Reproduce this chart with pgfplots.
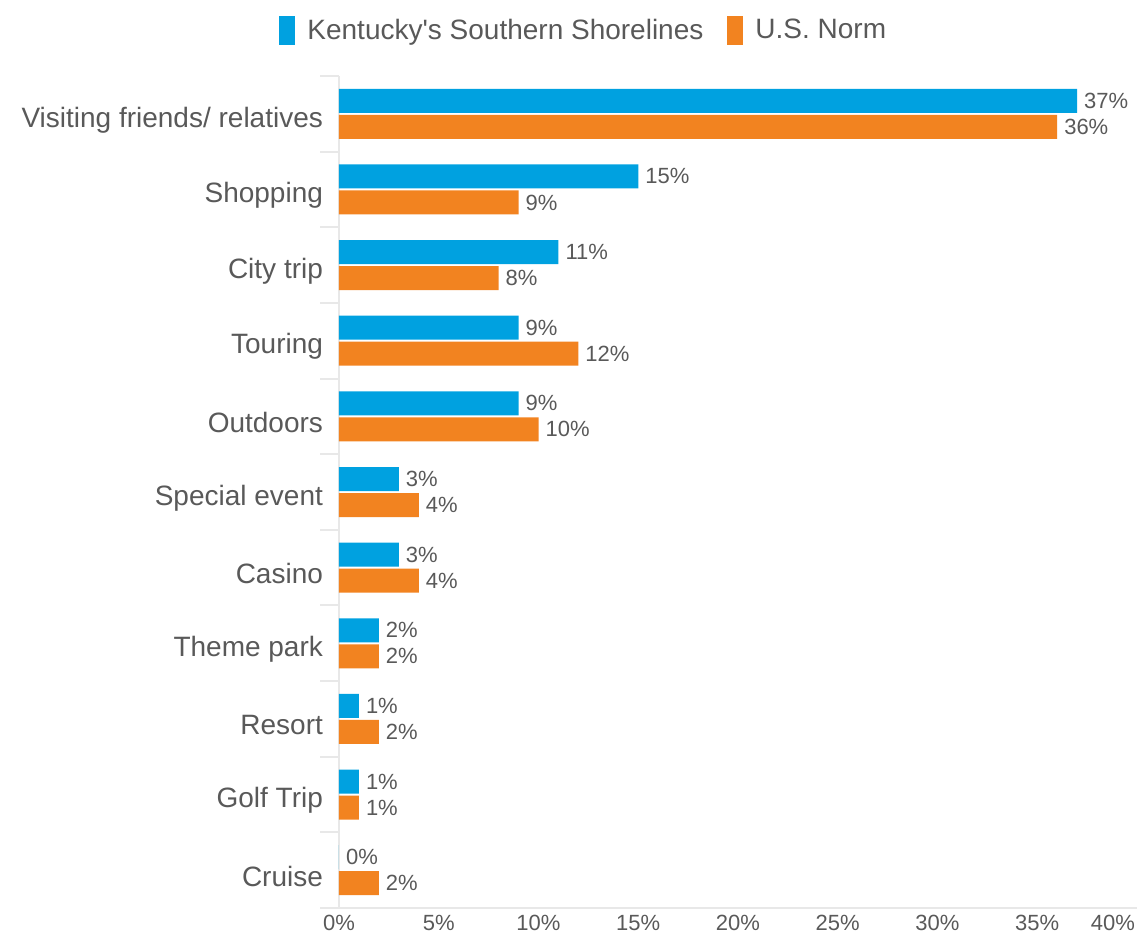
\documentclass[border=0pt]{standalone}
\usepackage{fontspec}
\setmainfont{Liberation Sans}
\newfontfamily\plainfont{Liberation Sans}
\usepackage{pgfplots}
\pgfplotsset{compat=1.18}
\usetikzlibrary{calc}

\definecolor{kyblue}{RGB}{0,161,224}
\definecolor{usorange}{RGB}{242,131,32}
\definecolor{txtgray}{RGB}{89,89,89}
\definecolor{axgray}{RGB}{232,232,232}

\begin{document}
\begin{tikzpicture}
\begin{axis}[
    name=ax,
    xbar,
    scale only axis,
    width=399pt, height=416pt,
    xmin=0, xmax=40,
    ymin=-0.5, ymax=10.5,
    bar width=12pt,
    axis x line*=bottom,
    axis y line*=left,
    axis line style={axgray, line width=1pt},
    xtick={0,5,...,35},
    extra x ticks={40},
    extra x tick style={xticklabel style={xshift=-12pt}},
    xticklabel={\pgfmathprintnumber{\tick}\%},
    ytick={0,...,10},
    yticklabels={Cruise,Golf Trip,Resort,Theme park,Casino,Special event,Outdoors,Touring,City trip,Shopping,Visiting friends/ relatives},
    minor ytick={-0.5,0.5,...,10.5},
    major tick length=0pt,
    minor tick length=9.5pt,
    tick align=outside,
    tick style={axgray, line width=1pt},
    /pgf/number format/assume math mode=true,
    xticklabel style={font=\fontsize{11}{13}\selectfont, text=txtgray},
    yticklabel style={font=\fontsize{14}{16}\selectfont, text=txtgray, xshift=-4.5pt, yshift=-3pt},
    nodes near coords={\pgfmathprintnumber{\pgfplotspointmeta}\%},
    point meta=x,
    every node near coord/.append style={font=\fontsize{11}{13}\selectfont, text=txtgray, anchor=west},
    legend style={at={(0.308,1.0547)}, anchor=center, draw=none,
        font=\fontsize{14}{16}\selectfont, text=txtgray,
        /tikz/every odd column/.append style={column sep=4pt},
        /tikz/every even column/.append style={column sep=10pt}},
    legend columns=2,
]
\addplot[fill=kyblue, draw=none, bar shift=6.5pt,
    legend image code/.code={\fill[kyblue] (0pt,-7.25pt) rectangle (8pt,7.25pt);}]
coordinates {
    (0,0) (1,1) (1,2) (2,3) (3,4) (3,5) (9,6) (9,7) (11,8) (15,9) (37,10)
};
\addplot[fill=usorange, draw=none, bar shift=-6.5pt,
    legend image code/.code={\fill[usorange] (0pt,-7.25pt) rectangle (8pt,7.25pt);}]
coordinates {
    (2,0) (1,1) (2,2) (2,3) (4,4) (4,5) (10,6) (12,7) (8,8) (9,9) (36,10)
};
\legend{{\plainfont Kentucky's Southern Shorelines}, U.S. Norm}
\end{axis}
\pgfresetboundingbox
\path[use as bounding box] ($(ax.south west)+(-169.5pt,-15pt)$) rectangle ($(ax.north east)+(0.5pt,38pt)$);
\end{tikzpicture}
\end{document}
